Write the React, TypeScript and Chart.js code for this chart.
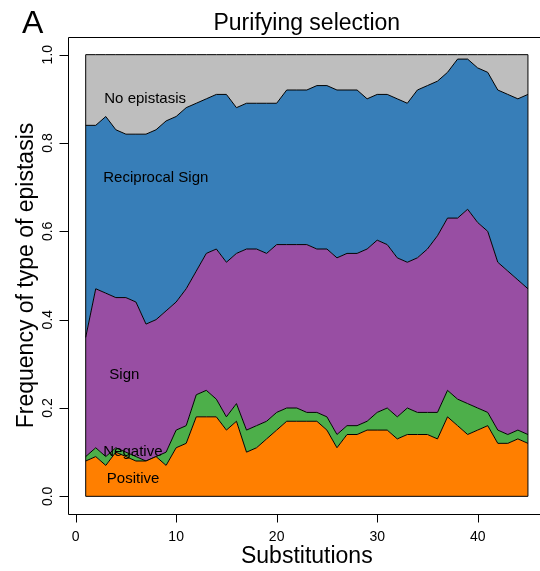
import React, { useEffect, useRef } from "react";
import { Chart, registerables } from "chart.js";

Chart.register(...registerables);

const substitutions = [
  1, 2, 3, 4, 5, 6, 7, 8, 9, 10, 11, 12, 13, 14, 15, 16, 17, 18, 19, 20, 21, 22, 23,
  24, 25, 26, 27, 28, 29, 30, 31, 32, 33, 34, 35, 36, 37, 38, 39, 40, 41, 42, 43, 44, 45,
];

const positive = [
  0.08, 0.09, 0.07, 0.10, 0.09, 0.08, 0.08, 0.09, 0.07, 0.11,
  0.12, 0.18, 0.18, 0.18, 0.15, 0.17, 0.10, 0.11, 0.13, 0.15,
  0.17, 0.17, 0.17, 0.17, 0.15, 0.11, 0.14, 0.14, 0.15, 0.15,
  0.15, 0.13, 0.14, 0.14, 0.14, 0.13, 0.18, 0.16, 0.14, 0.15,
  0.16, 0.12, 0.12, 0.13, 0.12,
];

const negative = [
  0.01, 0.02, 0.02, 0.01, 0.01, 0.01, 0.00, 0.00, 0.03, 0.04,
  0.04, 0.05, 0.06, 0.04, 0.03, 0.04, 0.05, 0.05, 0.04, 0.04,
  0.03, 0.03, 0.02, 0.02, 0.03, 0.03, 0.02, 0.02, 0.02, 0.04,
  0.05, 0.05, 0.06, 0.05, 0.05, 0.06, 0.06, 0.06, 0.07, 0.05,
  0.03, 0.03, 0.02, 0.02, 0.02,
];

const sign = [
  0.27, 0.36, 0.37, 0.34, 0.35, 0.35, 0.31, 0.31, 0.32, 0.29,
  0.31, 0.28, 0.31, 0.34, 0.35, 0.34, 0.41, 0.40, 0.38, 0.38,
  0.37, 0.37, 0.38, 0.37, 0.38, 0.40, 0.39, 0.39, 0.39, 0.39,
  0.37, 0.36, 0.33, 0.35, 0.37, 0.40, 0.39, 0.41, 0.44, 0.42,
  0.41, 0.38, 0.37, 0.34, 0.33,
];

const reciprocalSign = [
  0.48, 0.37, 0.40, 0.38, 0.37, 0.38, 0.43, 0.43, 0.43, 0.42,
  0.41, 0.38, 0.35, 0.35, 0.38, 0.33, 0.33, 0.33, 0.34, 0.32,
  0.35, 0.35, 0.35, 0.37, 0.37, 0.38, 0.37, 0.37, 0.34, 0.33,
  0.34, 0.36, 0.36, 0.38, 0.37, 0.35, 0.33, 0.36, 0.34, 0.35,
  0.36, 0.39, 0.40, 0.41, 0.44,
];

const noEpistasis = [
  0.16, 0.16, 0.14, 0.17, 0.18, 0.18, 0.18, 0.17, 0.15, 0.14,
  0.12, 0.11, 0.10, 0.09, 0.09, 0.12, 0.11, 0.11, 0.11, 0.11,
  0.08, 0.08, 0.08, 0.07, 0.07, 0.08, 0.08, 0.08, 0.10, 0.09,
  0.09, 0.10, 0.11, 0.08, 0.07, 0.06, 0.04, 0.01, 0.01, 0.03,
  0.04, 0.08, 0.09, 0.10, 0.09,
];

const seriesNames = ["Positive", "Negative", "Sign", "Reciprocal Sign", "No epistasis"];
const seriesColors = ["#FF7F00", "#4DAF4A", "#984EA3", "#377EB8", "#BEBEBE"];

const yTickValues = [0, 0.2, 0.4, 0.6, 0.8, 1.0];
const yTickLabels = ["0.0", "0.2", "0.4", "0.6", "0.8", "1.0"];
const xTickValues = [0, 10, 20, 30, 40];
const xTickLabels = ["0", "10", "20", "30", "40"];

const panelLetter = "A";
const chartTitle = "Purifying selection";
const xTitle = "Substitutions";
const yTitle = "Frequency of type of epistasis";

// in-plot labels (data coordinates: x, baseline y)
const areaLabels = [
  { text: "No epistasis", x: 2.85, y: 0.891 },
  { text: "Reciprocal Sign", x: 2.75, y: 0.712 },
  { text: "Sign", x: 3.35, y: 0.265 },
  { text: "Negative", x: 2.75, y: 0.091 },
  { text: "Positive", x: 3.1, y: 0.03 },
];

const FONT = "'Liberation Sans', Arial, Helvetica, sans-serif";

const rPlotPlugin = {
  id: "rPlot",
  afterDatasetsDraw(chart: any) {
    const { ctx, scales } = chart;
    const x = scales.x;
    const y = scales.y;
    const x0 = x.getPixelForValue(substitutions[0]);
    const x1 = x.getPixelForValue(substitutions[substitutions.length - 1]);
    const y0 = y.getPixelForValue(0);
    const y1 = y.getPixelForValue(1);
    ctx.save();
    ctx.strokeStyle = "#000";
    ctx.lineWidth = 1;
    ctx.beginPath();
    ctx.moveTo(x0, y1);
    ctx.lineTo(x0, y0);
    ctx.lineTo(x1, y0);
    ctx.lineTo(x1, y1);
    ctx.stroke();
    ctx.restore();
  },
  afterDraw(chart: any) {
    const { ctx, scales, chartArea, width } = chart;
    const x = scales.x;
    const y = scales.y;
    const left = Math.round(chartArea.left) + 0.5;
    const top = Math.round(chartArea.top) + 0.5;
    const bottom = Math.round(chartArea.bottom) + 0.5;
    ctx.save();
    ctx.strokeStyle = "#000";
    ctx.fillStyle = "#000";
    ctx.lineWidth = 1;
    // box (top, left, bottom)
    ctx.beginPath();
    ctx.moveTo(width, top);
    ctx.lineTo(left, top);
    ctx.lineTo(left, bottom);
    ctx.lineTo(width, bottom);
    ctx.stroke();

    // y ticks
    ctx.font = `14px ${FONT}`;
    yTickValues.forEach((v, i) => {
      const py = Math.round(y.getPixelForValue(v)) + 0.5;
      ctx.beginPath();
      ctx.moveTo(left - 9, py);
      ctx.lineTo(left, py);
      ctx.stroke();
      ctx.save();
      ctx.translate(left - 16.5, y.getPixelForValue(v));
      ctx.rotate(-Math.PI / 2);
      ctx.textAlign = "center";
      ctx.textBaseline = "alphabetic";
      ctx.fillText(yTickLabels[i], 0, 0);
      ctx.restore();
    });

    // x ticks
    xTickValues.forEach((v, i) => {
      const px = Math.round(x.getPixelForValue(v)) + 0.5;
      ctx.beginPath();
      ctx.moveTo(px, bottom);
      ctx.lineTo(px, bottom + 8);
      ctx.stroke();
      ctx.textAlign = "center";
      ctx.textBaseline = "alphabetic";
      ctx.fillText(xTickLabels[i], x.getPixelForValue(v), bottom + 26);
    });

    const plotCenterX = x.getPixelForValue(23);
    const plotCenterY = (chartArea.top + chartArea.bottom) / 2;

    // titles
    ctx.textAlign = "center";
    ctx.font = `23px ${FONT}`;
    ctx.fillText(chartTitle, plotCenterX, 29.5);
    ctx.fillText(xTitle, plotCenterX, 563);
    ctx.save();
    ctx.translate(33, plotCenterY);
    ctx.rotate(-Math.PI / 2);
    ctx.textAlign = "center";
    ctx.font = `23px ${FONT}`;
    ctx.fillText(yTitle, 0, 0);
    ctx.restore();

    ctx.textAlign = "left";
    ctx.font = `32px ${FONT}`;
    ctx.fillText(panelLetter, 22, 33);

    // in-plot labels
    ctx.font = `15px ${FONT}`;
    ctx.textAlign = "left";
    areaLabels.forEach((l) => {
      ctx.fillText(l.text, x.getPixelForValue(l.x), y.getPixelForValue(l.y));
    });
    ctx.restore();
  },
};

export default function App() {
  const canvasRef = useRef<HTMLCanvasElement | null>(null);

  useEffect(() => {
    const canvas = canvasRef.current;
    if (!canvas) return;
    const series = [positive, negative, sign, reciprocalSign, noEpistasis];
    const datasets = series.map((vals, i) => ({
      label: seriesNames[i],
      data: substitutions.map((s, j) => ({ x: s, y: vals[j] })),
      backgroundColor: seriesColors[i],
      borderColor: "#000",
      borderWidth: 1,
      pointRadius: 0,
      tension: 0,
      fill: i === 0 ? "origin" : "-1",
    }));
    const chart = new Chart(canvas, {
      type: "line",
      data: { datasets },
      options: {
        animation: false,
        responsive: false,
        devicePixelRatio: 1,
        layout: { padding: { left: 68, top: 37, right: 0, bottom: 57 } },
        plugins: {
          legend: { display: false },
          title: { display: false },
          tooltip: { enabled: false },
          filler: { propagate: false },
        },
        scales: {
          x: { type: "linear", min: -0.76, max: 46.2, display: false },
          y: { type: "linear", stacked: true, min: -0.04, max: 1.04, display: false },
        },
      },
      plugins: [rPlotPlugin],
    });
    return () => chart.destroy();
  }, []);

  return (
    <div style={{ position: "absolute", left: 0, top: 0, width: 540, height: 571, background: "#fff" }}>
      <canvas ref={canvasRef} width={540} height={571} style={{ display: "block" }} />
    </div>
  );
}
